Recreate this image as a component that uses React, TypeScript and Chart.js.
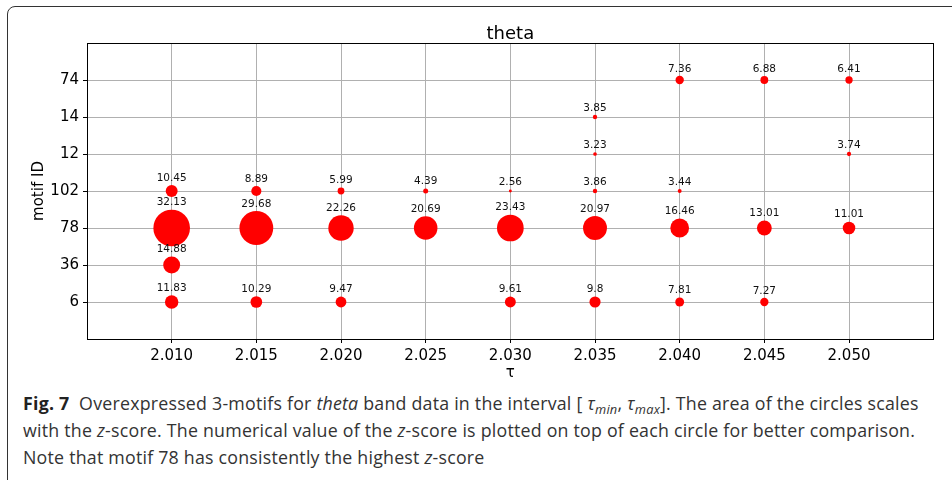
import React, { useEffect, useRef } from 'react';
import { Chart, registerables } from 'chart.js';

Chart.register(...registerables);

// ---- data ----
const tauValues = [2.01, 2.015, 2.02, 2.025, 2.03, 2.035, 2.04, 2.045, 2.05];
const tauLabels = ['2.010', '2.015', '2.020', '2.025', '2.030', '2.035', '2.040', '2.045', '2.050'];
const motifIds = ['6', '36', '78', '102', '12', '14', '74'];

const z6 = [11.83, 10.29, 9.47, null, 9.61, 9.8, 7.81, 7.27, null];
const z36 = [14.88, null, null, null, null, null, null, null, null];
const z78 = [32.13, 29.68, 22.26, 20.69, 23.43, 20.97, 16.46, 13.01, 11.01];
const z102 = [10.45, 8.89, 5.99, 4.39, 2.56, 3.86, 3.44, null, null];
const z12 = [null, null, null, null, null, 3.23, null, null, 3.74];
const z14 = [null, null, null, null, null, 3.85, null, null, null];
const z74 = [null, null, null, null, null, null, 7.36, 6.88, 6.41];

const zByMotif: (number | null)[][] = [z6, z36, z78, z102, z12, z14, z74];

const RADIUS_PER_Z = 0.57;

type Pt = { x: number; y: number; r: number; z: number };
const points: Pt[] = [];
zByMotif.forEach((row, i) => {
  row.forEach((z, j) => {
    if (z !== null) points.push({ x: tauValues[j], y: i, r: z * RADIUS_PER_Z, z });
  });
});

const FONT = "'DejaVu Sans', sans-serif";

const annotatePlugin = {
  id: 'annotate',
  afterDraw(chart: any) {
    const ctx = chart.ctx as CanvasRenderingContext2D;
    const ca = chart.chartArea;
    ctx.save();
    // plot frame
    ctx.strokeStyle = '#000';
    ctx.lineWidth = 1;
    ctx.strokeRect(Math.round(ca.left) + 0.5, Math.round(ca.top) + 0.5, Math.round(ca.right - ca.left) - 1, Math.round(ca.bottom - ca.top));
    // value labels
    ctx.fillStyle = '#111';
    ctx.font = `10.5px ${FONT}`;
    ctx.textAlign = 'center';
    ctx.textBaseline = 'middle';
    const meta = chart.getDatasetMeta(0);
    meta.data.forEach((el: any, k: number) => {
      const p = points[k];
      const r = el.options.radius;
      ctx.fillText(String(p.z), el.x, el.y - r - 7);
    });
    // title
    ctx.fillStyle = '#000';
    ctx.font = `18px ${FONT}`;
    ctx.textBaseline = 'alphabetic';
    ctx.fillText('theta', (ca.left + ca.right) / 2, 39);
    // x axis title
    ctx.font = `15px ${FONT}`;
    ctx.fillText('τ', (ca.left + ca.right) / 2, 377);
    // y axis title
    ctx.translate(39, (ca.top + ca.bottom) / 2);
    ctx.rotate(-Math.PI / 2);
    ctx.textBaseline = 'middle';
    ctx.font = `15px ${FONT}`;
    ctx.fillText('motif ID', 0, 0);
    ctx.restore();
  },
};

const subStyle: React.CSSProperties = {
  fontSize: '0.72em',
  position: 'relative',
  top: '0.35em',
  lineHeight: 0,
};

export default function App() {
  const ref = useRef<HTMLCanvasElement | null>(null);

  useEffect(() => {
    if (!ref.current) return;
    const chart = new Chart(ref.current, {
      type: 'bubble',
      data: {
        datasets: [
          {
            data: points.map((p) => ({ x: p.x, y: p.y, r: p.r })),
            backgroundColor: '#ff0000',
            borderWidth: 0,
            hoverRadius: 0,
            hoverBorderWidth: 0,
          },
        ],
      },
      options: {
        animation: false,
        responsive: false,
        events: [],
        layout: { padding: { left: 20, top: 43, right: 13, bottom: 0 } },
        plugins: { legend: { display: false }, tooltip: { enabled: false }, title: { display: false } },
        scales: {
          x: {
            type: 'linear',
            min: 2.005,
            max: 2.055,
            z: 1,
            afterBuildTicks: (scale: any) => {
              scale.ticks = tauValues.map((v) => ({ value: v }));
            },
            afterFit: (scale: any) => {
              scale.height = 51;
            },
            ticks: {
              autoSkip: false,
              maxRotation: 0,
              padding: 4,
              color: '#000',
              font: { family: FONT, size: 15 },
              callback: (_v: any, i: number) => tauLabels[i],
            },
            grid: { color: '#b0b0b0', lineWidth: 1, tickColor: '#000', tickLength: 4 },
            border: { display: false },
          },
          y: {
            type: 'linear',
            min: -1,
            max: 7,
            z: 1,
            afterBuildTicks: (scale: any) => {
              scale.ticks = motifIds.map((_, i) => ({ value: i }));
            },
            afterFit: (scale: any) => {
              scale.width = 67;
            },
            ticks: {
              autoSkip: false,
              padding: 4,
              color: '#000',
              font: { family: FONT, size: 15 },
              callback: (_v: any, i: number) => motifIds[i],
            },
            grid: { color: '#b0b0b0', lineWidth: 1, tickColor: '#000', tickLength: 4 },
            border: { display: false },
          },
        },
      },
      plugins: [annotatePlugin],
    });
    return () => chart.destroy();
  }, []);

  const captionStyle: React.CSSProperties = {
    position: 'absolute',
    left: 23,
    top: 390,
    fontFamily: "'Open Sans', sans-serif",
    fontSize: 17.8,
    letterSpacing: '0.22px',
    lineHeight: '27px',
    color: '#333',
    whiteSpace: 'nowrap',
  };

  return (
    <div style={{ position: 'absolute', left: 0, top: 0, width: 952, height: 480, overflow: 'hidden', background: '#fff' }}>
      <div
        style={{
          position: 'absolute',
          left: 7,
          top: 6,
          width: 1100,
          height: 700,
          border: '1px solid #333',
          borderRadius: 8,
          boxSizing: 'border-box',
        }}
      />
      <canvas ref={ref} width={952} height={390} style={{ position: 'absolute', left: 0, top: 0, width: 952, height: 390 }} />
      <div style={captionStyle}>
        <div>
          <b style={{ color: '#222' }}>Fig. 7</b>&nbsp;&nbsp;Overexpressed 3-motifs for <i>theta</i> band data in the interval [ <i>τ</i>
          <span style={subStyle}><i>min</i></span>, <i>τ</i>
          <span style={subStyle}><i>max</i></span>]. The area of the circles scales
        </div>
        <div>
          with the <i>z</i>-score. The numerical value of the <i>z</i>-score is plotted on top of each circle for better comparison.
        </div>
        <div>
          Note that motif 78 has consistently the highest <i>z</i>-score
        </div>
      </div>
    </div>
  );
}
